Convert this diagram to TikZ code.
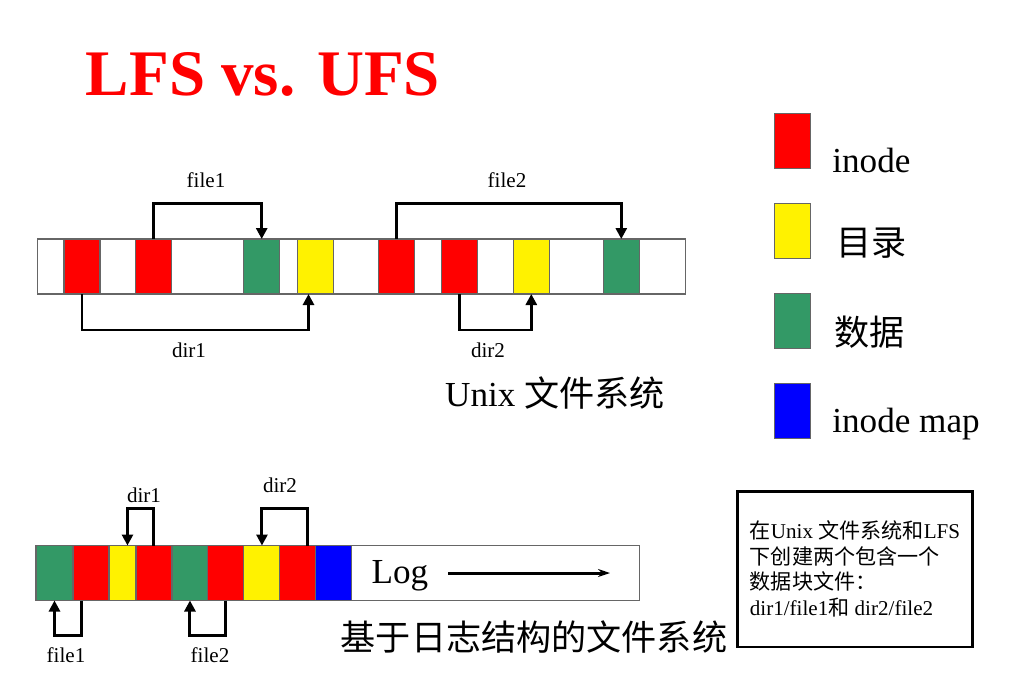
\documentclass[tikz,border=0pt]{standalone}
\usepackage{fontspec}
\setmainfont{Liberation Serif}
\newfontfamily\cjk{Noto Sans CJK SC}
\usepackage{tikz}
\usetikzlibrary{arrows.meta,positioning}
\definecolor{dgreen}{RGB}{51,153,102}

\begin{document}
\begin{tikzpicture}[x=0.02cm,y=-0.02cm,
        blk/.style={draw=black!60,line width=0.6pt,minimum width=0.72cm,minimum height=1.1cm,inner sep=0pt,outer sep=0pt},
        bar/.style={draw=black!60,line width=0.6pt,minimum height=1.1cm,inner sep=0pt,outer sep=0pt},
        link/.style={line width=1.7pt,-{Triangle[length=2.2mm,width=2.2mm]}},
        small/.style={font=\fontsize{12}{14}\selectfont,inner sep=0pt},
        big/.style={font=\fontsize{20}{24}\selectfont,inner sep=0pt}]

    \useasboundingbox (0,0) rectangle (1024,694);

    \node[anchor=base,inner sep=0pt,text=red,font=\fontsize{37}{40}\selectfont\bfseries] (title) at (263,95) {LFS vs. UFS};

    % Unix
    \node[bar,minimum width=12.98cm] (ubar) at (361.5,266.5) {};
    \node[blk,fill=red]    (u1) at (82,266.5) {};
    \node[blk,fill=red]    (u2) at (153.6,266.5) {};
    \node[blk,fill=dgreen] (u3) at (261.7,266.5) {};
    \node[blk,fill=yellow] (u4) at (315.5,266.5) {};
    \node[blk,fill=red]    (u5) at (396.7,266.5) {};
    \node[blk,fill=red]    (u6) at (459.5,266.5) {};
    \node[blk,fill=yellow] (u7) at (531.3,266.5) {};
    \node[blk,fill=dgreen] (u8) at (621.3,266.5) {};

    \draw[link] (u2.north) -- ++(0,-36) -| (u3.north);
    \draw[link] (u1.south) -- ++(0,36) -| ([xshift=-0.14cm]u4.south);
    \draw[link] (u5.north) -- ++(0,-36) -| (u8.north);
    \draw[link] (u6.south) -- ++(0,36) -| (u7.south);

    \node[small] (ufile1) at (206,180) {file1};
    \node[small] (ufile2) at (507,180) {file2};
    \node[small] (udir1) at (189,350) {dir1};
    \node[small] (udir2) at (488,350) {dir2};

    \node[big] (unix) at (555,393) {Unix {\cjk 文件系统}};

    % LFS
    \node[bar,minimum width=12.06cm] (lbar) at (338.5,573) {};
    \node[blk,fill=dgreen,minimum width=0.74cm,anchor=west] (l1) at (36,573) {};
    \node[blk,fill=red,right=0pt of l1]    (l2) {};
    \node[blk,fill=yellow,minimum width=0.54cm,right=0pt of l2] (l3) {};
    \node[blk,fill=red,right=0pt of l3]    (l4) {};
    \node[blk,fill=dgreen,right=0pt of l4] (l5) {};
    \node[blk,fill=red,right=0pt of l5]    (l6) {};
    \node[blk,fill=yellow,right=0pt of l6] (l7) {};
    \node[blk,fill=red,right=0pt of l7]    (l8) {};
    \node[blk,fill=blue,right=0pt of l8]   (l9) {};

    \draw[link] (l4.north) -- ++(0,-37) -| ([xshift=0.1cm]l3.north);
    \draw[link] ([xshift=0.2cm]l8.north) -- ++(0,-37) -| (l7.north);
    \draw[link] ([xshift=-0.18cm]l2.south) -- ++(0,35) -| (l1.south);
    \draw[link] (l6.south) -- ++(0,35) -| (l5.south);

    \node[small] (ldir1) at (144,495) {dir1};
    \node[small] (ldir2) at (280,485) {dir2};
    \node[small] (lfile1) at (66,655) {file1};
    \node[small] (lfile2) at (210,655) {file2};

    \node[big] (log) at (400,576) {Log};
    \coordinate (logs) at (448,573);
    \coordinate (loge) at (610,573);
    \draw[line width=1.7pt,-{Stealth[length=2.4mm,width=1.6mm]}] (logs) -- (loge);

    \node[big] (lfs) at (534,637) {\cjk 基于日志结构的文件系统};

    % legend
    \node[blk,fill=red]    (key1) at (792.5,141) {};
    \node[blk,fill=yellow] (key2) at (792.5,231) {};
    \node[blk,fill=dgreen] (key3) at (792.5,321) {};
    \node[blk,fill=blue]   (key4) at (792.5,411) {};
    \node[big,anchor=base west] (txt1) at (832,172) {inode};
    \node[big,anchor=base west] (txt2) at (836,255) {\cjk 目录};
    \node[big,anchor=base west] (txt3) at (834,345) {\cjk 数据};
    \node[big,anchor=base west] (txt4) at (832,432) {inode map};

    \node[draw,line width=1.7pt,minimum width=4.72cm,minimum height=3.12cm,align=left,
          font=\fontsize{12}{14.6}\selectfont] (note) at (855,569)
          {{\cjk 在}Unix {\cjk 文件系统和}LFS\\{\cjk 下创建两个包含一个}\\{\cjk 数据块文件：}\\dir1/file1{\cjk 和} dir2/file2};
\end{tikzpicture}
\end{document}
